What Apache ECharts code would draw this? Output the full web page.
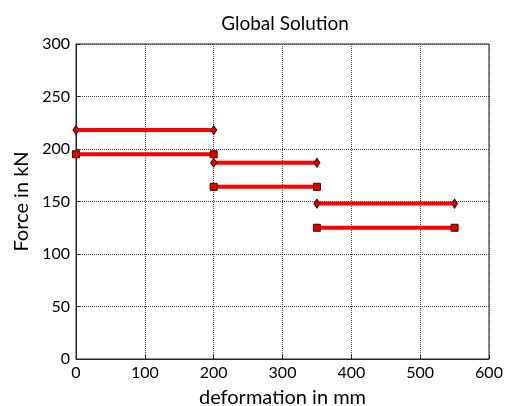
<!DOCTYPE html>
<html>
<head>
<meta charset="utf-8">
<script src="https://cdn.jsdelivr.net/npm/echarts@6/dist/echarts.min.js"></script>
<style>
  html, body { margin: 0; padding: 0; background: #fff; }
  #chart { width: 507px; height: 406px; }
</style>
</head>
<body>
<div id="chart"></div>
<script>
// Piecewise-constant force levels for each deformation stage
var stageStart = [0, 200, 350];
var stageEnd = [200, 350, 550];
var upperForce = [218, 187, 148];   // diamond-marked levels
var lowerForce = [195, 164, 125];   // square-marked levels
var xTicks = [0, 100, 200, 300, 400, 500, 600];
var yTicks = [0, 50, 100, 150, 200, 250, 300];

var FONT = 'Lato';

function stageSeries(levels, symbol, size) {
  return levels.map(function (v, i) {
    return {
      type: 'line',
      data: [[stageStart[i], v], [stageEnd[i], v]],
      symbol: symbol,
      symbolSize: size,
      showSymbol: true,
      lineStyle: { color: '#ff0000', width: 4 },
      itemStyle: { color: '#e00000', borderColor: '#400000', borderWidth: 1 },
      animation: false,
      z: 3
    };
  });
}

var chart = echarts.init(document.getElementById('chart'), null, { renderer: 'canvas' });
chart.setOption({
  backgroundColor: '#ffffff',
  animation: false,
  title: {
    text: 'Global Solution',
    left: 280,
    textAlign: 'center',
    top: 9,
    textStyle: { fontFamily: FONT, fontSize: 19, fontWeight: 'normal', color: '#000' }
  },
  grid: {
    left: 76, right: 18, top: 44, bottom: 47,
    outerBoundsMode: 'none',
    containLabel: false,
    show: true, borderColor: '#222', borderWidth: 1, backgroundColor: 'transparent'
  },
  xAxis: {
    type: 'value',
    min: xTicks[0], max: xTicks[xTicks.length - 1], interval: 100,
    name: 'deformation in mm',
    nameLocation: 'middle',
    nameGap: 29,
    nameTextStyle: { fontFamily: FONT, fontSize: 20, color: '#000' },
    axisLine: { show: true, lineStyle: { color: '#222', width: 1 } },
    axisTick: { show: true, inside: true, length: 4, lineStyle: { color: '#222' } },
    axisLabel: { fontFamily: FONT, fontSize: 16, color: '#000', margin: 6 },
    splitLine: { show: true, lineStyle: { type: 'dotted', color: '#444', width: 1 } }
  },
  yAxis: {
    type: 'value',
    min: yTicks[0], max: yTicks[yTicks.length - 1], interval: 50,
    name: 'Force in kN',
    nameLocation: 'middle',
    nameGap: 44,
    nameTextStyle: { fontFamily: FONT, fontSize: 20, color: '#000' },
    axisLine: { show: true, lineStyle: { color: '#222', width: 1 } },
    axisTick: { show: true, inside: true, length: 4, lineStyle: { color: '#222' } },
    axisLabel: { fontFamily: FONT, fontSize: 16, color: '#000', margin: 6 },
    splitLine: { show: true, lineStyle: { type: 'dotted', color: '#444', width: 1 } }
  },
  series: stageSeries(upperForce, 'diamond', [6, 9]).concat(stageSeries(lowerForce, 'rect', 7))
});
</script>
</body>
</html>
